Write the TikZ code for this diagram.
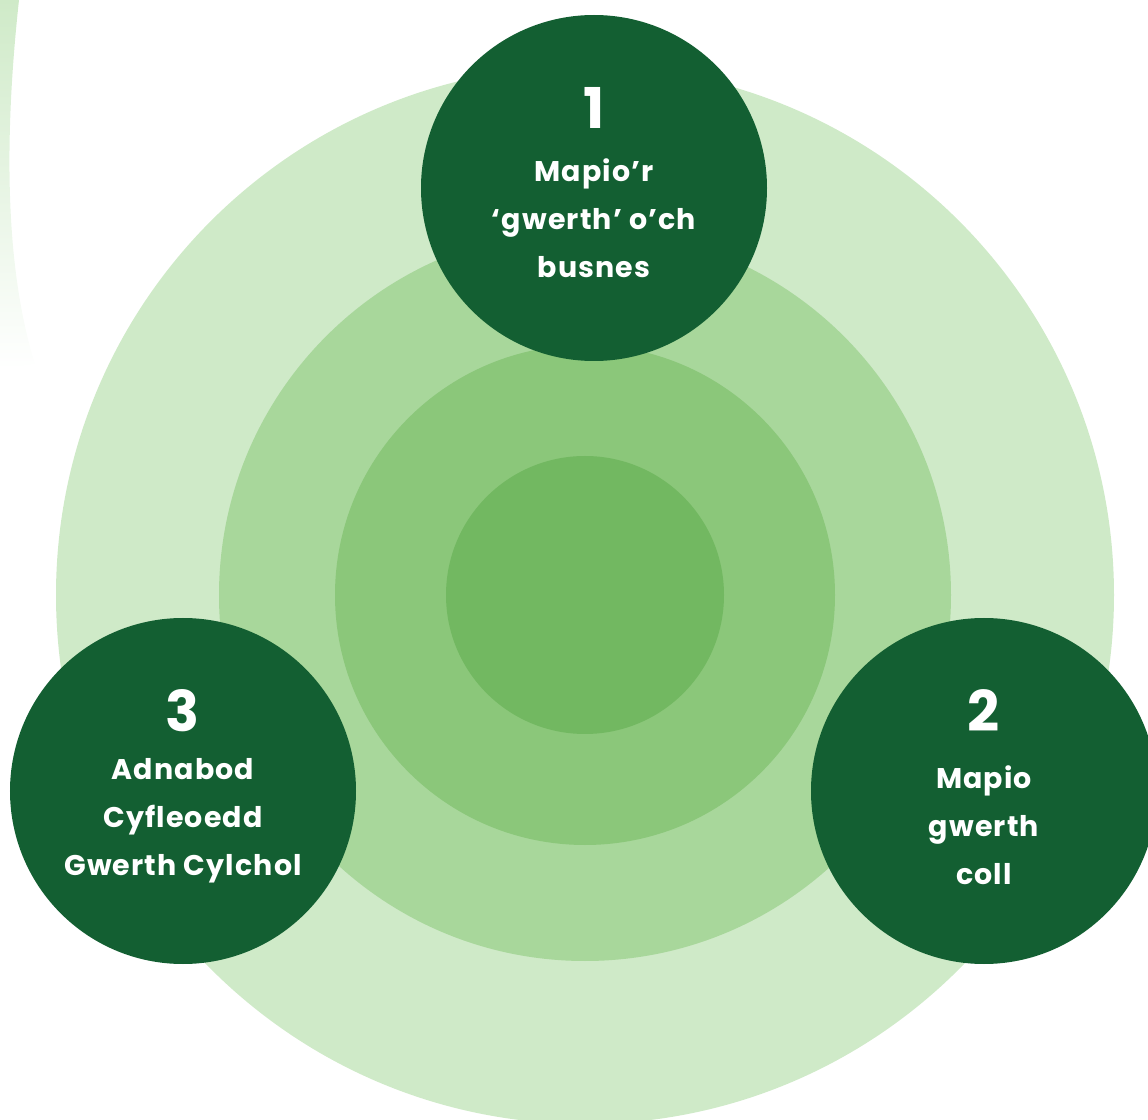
\documentclass[tikz,border=0pt]{standalone}
\usepackage{fontspec}
\setmainfont{Poppins}
\usetikzlibrary{positioning}
\definecolor{ringA}{RGB}{207,234,200}
\definecolor{ringB}{RGB}{168,215,155}
\definecolor{ringC}{RGB}{139,199,122}
\definecolor{ringD}{RGB}{114,184,97}
\definecolor{stepgreen}{RGB}{19,95,50}
\tikzset{
  stepcircle/.style={circle, fill=stepgreen, draw=none, minimum size=3.46cm, inner sep=0pt},
  stepnum/.style={text=white, inner sep=0pt, font=\bfseries\fontsize{16}{18}\selectfont},
  steptext/.style={text=white, align=center, inner sep=0pt,
    font=\bfseries\fontsize{8.1}{13.6}\selectfont\addfontfeature{LetterSpace=4}}
}

\begin{document}
\begin{tikzpicture}
\useasboundingbox (0,0) rectangle (11.48,11.19);
%Rings
\fill[ringA] (5.85,5.24) circle [radius=5.29];
\fill[ringB] (5.85,5.24) circle [radius=3.66];
\fill[ringC] (5.85,5.24) circle [radius=2.50];
\fill[ringD] (5.85,5.24) circle [radius=1.39];
%Faded arc top left
\shade[top color=ringA, bottom color=white] (0,11.19) -- (0.19,11.19) .. controls (0.06,10.0) and (0.02,8.6) .. (0.35,7.55) -- (0,7.50) -- cycle;
%Steps
\node[stepcircle] (c1) at (5.94,9.31) {};
\node[stepcircle] (c2) at (9.84,3.28) {};
\node[stepcircle] (c3) at (1.83,3.28) {};
\node[stepnum, yshift=0.80cm] (n1) at (c1) {1};
\node[stepnum, yshift=0.80cm] (n2) at (c2) {2};
\node[stepnum, yshift=0.80cm] (n3) at (c3) {3};
\node[steptext, yshift=-0.30cm] (t1) at (c1) {Mapio’r\\‘gwerth’ o’ch\\busnes};
\node[steptext, yshift=-0.34cm] (t2) at (c2) {Mapio\\gwerth\\coll};
\node[steptext, yshift=-0.30cm] (t3) at (c3) {Adnabod\\Cyfleoedd\\Gwerth Cylchol};
\end{tikzpicture}
\end{document}
